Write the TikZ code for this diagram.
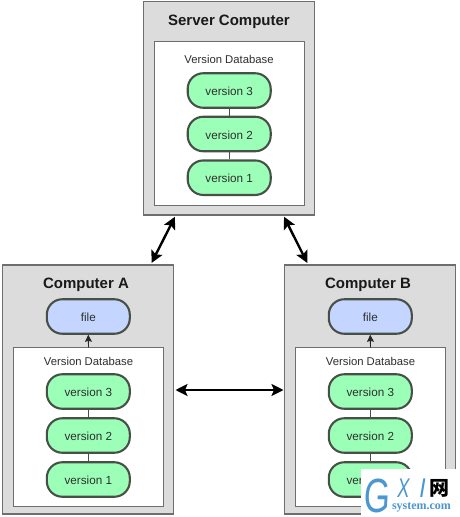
\documentclass[tikz,border=0pt]{standalone}
\usepackage{fontspec}
\setmainfont{Liberation Sans}
\newfontfamily\wmserif{Liberation Serif}
\newfontfamily\wmcjk{Noto Sans CJK SC}
\usetikzlibrary{arrows.meta}
\definecolor{boxgray}{HTML}{DCDCDC}
\definecolor{edgegray}{HTML}{6E6E6E}
\definecolor{pillgreen}{HTML}{9CFFB8}
\definecolor{pillblue}{HTML}{C4D6FF}
\definecolor{pilledge}{HTML}{475047}
\definecolor{txt}{HTML}{2E2E2E}
\definecolor{wmblue}{HTML}{4A97D2}
\tikzset{
 outerbox/.style={draw=edgegray,fill=boxgray,line width=1.1pt,minimum width=171pt,minimum height=#1,inner sep=0pt},
 innerbox/.style={draw=edgegray,fill=white,line width=1pt,minimum width=150pt,minimum height=#1,inner sep=0pt},
 pill/.style={draw=pilledge,line width=2.1pt,rounded corners=15.5pt,minimum width=83pt,minimum height=34.5pt,inner sep=0pt,font=\fontsize{11.7}{13}\selectfont,text=txt,text height=10.4pt,text depth=0pt},
 vpill/.style={pill,fill=pillgreen},
 fpill/.style={pill,fill=pillblue},
 titletext/.style={font=\fontsize{15}{17}\bfseries\selectfont,text=black!90,inner sep=0pt},
 dbtext/.style={font=\fontsize{11.3}{13}\selectfont,text=txt,inner sep=0pt},
 link/.style={draw=pilledge,line width=1pt},
 sync/.style={draw=black,line width=2.4pt,{Stealth[length=12pt,width=12pt,inset=2.5pt]}-{Stealth[length=12pt,width=12pt,inset=2.5pt]}},
 fetch/.style={draw=black!85,line width=.9pt,-{Stealth[length=7pt,width=7pt,inset=1pt]}},
 wmtext/.style={inner sep=0pt,text=wmblue},
}
\begin{document}
\begin{tikzpicture}[x=1pt,y=-1pt]
\useasboundingbox (0,0) rectangle (459,517);
\fill[white] (0,0) rectangle (459,517);
% Server
\node[outerbox=213.5pt] (sbox) at (229.2,108.2) {};
\node[innerbox=163.5pt] (sdb) at (229.2,123.7) {};
\node[titletext] (stitle) at (229,22) {Server Computer};
\node[dbtext] (sdbt) at (229,59.8) {Version Database};
\node[vpill] (s3) at (229.2,90.5) {version 3};
\node[vpill] (s2) at (229.2,134) {version 2};
\node[vpill] (s1) at (229.2,177.7) {version 1};
\draw[link] (s3) -- (s2);
\draw[link] (s2) -- (s1);
% A
\node[outerbox=249pt] (abox) at (88,389.5) {};
\node[innerbox=158.5pt] (adb) at (88.5,427) {};
\node[titletext] (atitle) at (86,284.5) {Computer A};
\node[fpill] (af) at (88.3,316.5) {file};
\node[dbtext] (adbt) at (88.5,361) {Version Database};
\node[vpill] (a3) at (88.3,391.5) {version 3};
\node[vpill] (a2) at (88.3,435.5) {version 2};
\node[vpill] (a1) at (88.3,479.5) {version 1};
\draw[link] (a3) -- (a2);
\draw[link] (a2) -- (a1);
\draw[fetch] (adb.north) -- (af.south);
% B
\node[outerbox=249pt] (bbox) at (370.3,389.5) {};
\node[innerbox=158.5pt] (bdb) at (370.5,427) {};
\node[titletext] (btitle) at (368,284.5) {Computer B};
\node[fpill] (bf) at (370.3,316.5) {file};
\node[dbtext] (bdbt) at (370.5,361) {Version Database};
\node[vpill] (b3) at (370.3,391.5) {version 3};
\node[vpill] (b2) at (370.3,435.5) {version 2};
\node[vpill] (b1) at (370.3,479.5) {version 1};
\draw[link] (b3) -- (b2);
\draw[link] (b2) -- (b1);
\draw[fetch] (bdb.north) -- (bf.south);
% sync arrows
\coordinate (sa1) at (175,216.7);
\coordinate (sa2) at (151.5,263);
\coordinate (sb1) at (284,216.7);
\coordinate (sb2) at (307.3,263);
\coordinate (ab1) at (175.5,390);
\coordinate (ab2) at (283.5,390);
\draw[sync] (sa1) -- (sa2);
\draw[sync] (sb1) -- (sb2);
\draw[sync] (ab1) -- (ab2);
% watermark
\fill[white] (361,469) rectangle (459,517);
\node[wmtext,font=\fontsize{48}{48}\selectfont,xscale=.7,xslant=.08,transform shape] (wg) at (377,496) {G};
\node[wmtext,font=\fontsize{27}{27}\itshape\selectfont,xscale=.68,transform shape] (wx) at (403.5,488) {X};
\node[wmtext,font=\fontsize{27}{27}\itshape\selectfont,xscale=.85,transform shape] (wi) at (422.5,488) {I};
\node[inner sep=0pt,text=black,font=\wmcjk\bfseries\fontsize{20}{20}\selectfont] (wn) at (439,488) {网};
\node[wmtext,font=\wmserif\fontsize{12}{13}\bfseries\selectfont] (ws) at (421.5,507.5) {system.com};
\end{tikzpicture}
\end{document}
